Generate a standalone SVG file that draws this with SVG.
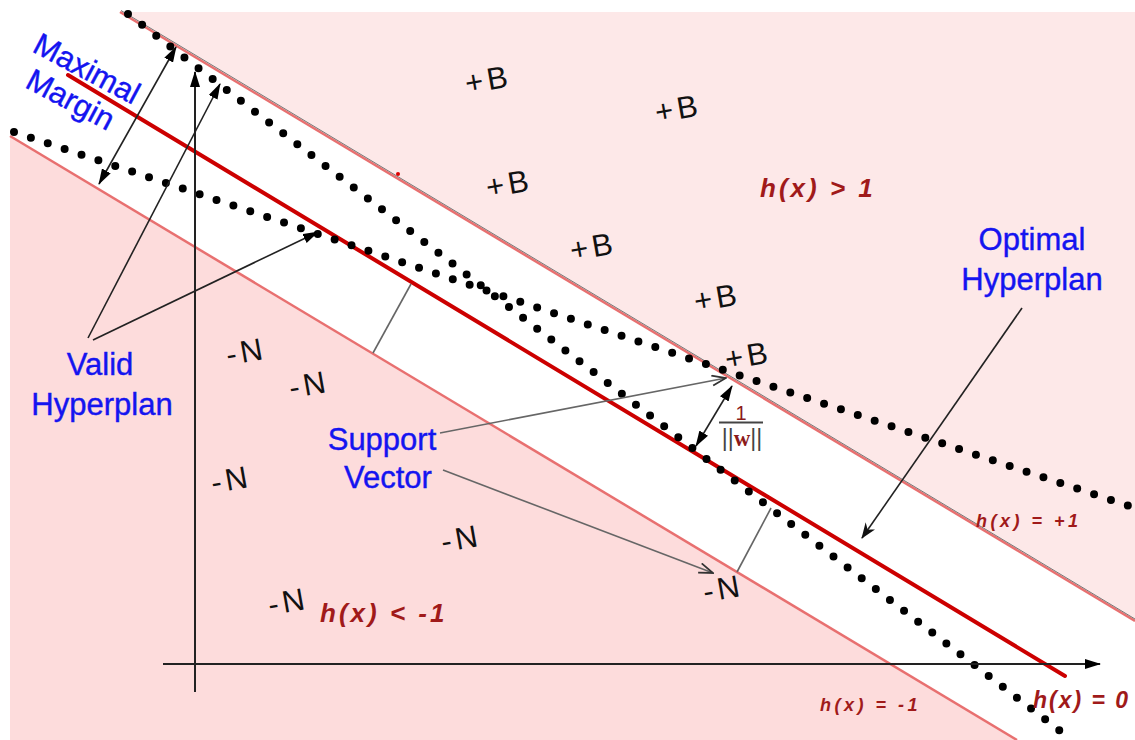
<svg xmlns="http://www.w3.org/2000/svg" width="1135" height="740" viewBox="0 0 1135 740">
<style>
.blue{font-family:"Liberation Sans",Arial,sans-serif;font-size:31px;fill:#1414f0;text-anchor:middle;stroke:#1414f0;stroke-width:0.4px}
.pt{font-family:"Liberation Sans",Arial,sans-serif;font-size:31px;fill:#111;letter-spacing:4px;text-anchor:middle}
.hx{font-family:"Liberation Sans",Arial,sans-serif;font-style:italic;font-weight:bold;fill:#a01a1a}
.dots{fill:none;stroke:#000;stroke-width:8;stroke-linecap:round;stroke-dasharray:0 17.8}
.bnd{fill:none;stroke:#e87070;stroke-width:2.5}
.ptr{fill:none;stroke:#222;stroke-width:1.6}
.gray{fill:none;stroke:#666;stroke-width:1.6}
</style>
<defs>
<marker id="tri" viewBox="0 0 16 10" refX="15" refY="5" markerWidth="16" markerHeight="10" markerUnits="userSpaceOnUse" orient="auto-start-reverse"><path d="M0,0 L16,5 L0,10 z" fill="#000"/></marker>
<marker id="barb" viewBox="0 0 16 12" refX="15" refY="6" markerWidth="16" markerHeight="12" markerUnits="userSpaceOnUse" orient="auto"><path d="M0,0 L16,6 L0,12 L5,6 z" fill="#111"/></marker>
<marker id="vee" viewBox="0 0 16 12" refX="15" refY="6" markerWidth="16" markerHeight="12" markerUnits="userSpaceOnUse" orient="auto"><path d="M1,1 L15,6 L1,11" fill="none" stroke="#333" stroke-width="1.8"/></marker>
</defs>
<rect x="0" y="0" width="1135" height="740" fill="#fff"/>
<g id="regions">
<polygon points="120,12 1135,12 1135,621" fill="#fde8e8"/>
<polygon points="10,136 1017,740 10,740" fill="#fddcdc"/>
</g>
<g id="lines">
<line class="bnd" x1="120" y1="12" x2="1135" y2="621"/>
<line x1="121" y1="10.5" x2="1135" y2="619" stroke="#777" stroke-width="1"/>
<line class="bnd" x1="10" y1="136" x2="1017" y2="740"/>
<circle cx="398" cy="174" r="2" fill="#d00"/>
<line x1="68" y1="75" x2="1065" y2="676" stroke="#cc0000" stroke-width="4" stroke-linecap="round"/>
<line class="dots" x1="128" y1="14" x2="1072" y2="740"/>
<line class="dots" x1="14" y1="132" x2="1135" y2="508"/>
</g>
<g id="connectors">
<line x1="163" y1="664" x2="1100" y2="664" stroke="#222" stroke-width="2" marker-end="url(#tri)"/>
<line x1="195" y1="692" x2="195" y2="72" stroke="#222" stroke-width="2" marker-end="url(#tri)"/>
<line class="ptr" x1="99" y1="184" x2="176" y2="47" marker-start="url(#tri)" marker-end="url(#tri)"/>
<line class="ptr" x1="88" y1="338" x2="220" y2="84" marker-end="url(#tri)"/>
<line class="ptr" x1="93" y1="340" x2="318" y2="232" marker-end="url(#tri)"/>
<line class="gray" x1="373" y1="353" x2="411" y2="284"/>
<line class="gray" x1="737" y1="572" x2="771" y2="508"/>
<line class="ptr" x1="696" y1="446" x2="732" y2="386" marker-start="url(#tri)" marker-end="url(#tri)"/>
<line class="gray" x1="440" y1="433" x2="726" y2="378" marker-end="url(#vee)"/>
<line class="gray" x1="443" y1="470" x2="713" y2="573" marker-end="url(#vee)"/>
<line class="ptr" x1="1022" y1="308" x2="862" y2="538" marker-end="url(#barb)"/>
</g>
<g id="label-maximal-margin" transform="rotate(28 82 78)">
<text class="blue" x="82" y="78">Maximal</text>
<text class="blue" x="82" y="113">Margin</text>
</g>
<g id="label-valid">
<text class="blue" x="100" y="375">Valid</text>
<text class="blue" x="102" y="415">Hyperplan</text>
</g>
<g id="label-support">
<text class="blue" x="382" y="450">Support</text>
<text class="blue" x="388" y="488">Vector</text>
</g>
<g id="label-optimal">
<text class="blue" x="1032" y="250">Optimal</text>
<text class="blue" x="1032" y="290">Hyperplan</text>
</g>
<g id="points-B">
<text class="pt" transform="rotate(-10 490 90)" x="490" y="90">+B</text>
<text class="pt" transform="rotate(-10 680 119)" x="680" y="119">+B</text>
<text class="pt" transform="rotate(-10 511 194)" x="511" y="194">+B</text>
<text class="pt" transform="rotate(-10 595 257)" x="595" y="257">+B</text>
<text class="pt" transform="rotate(-10 719 308)" x="719" y="308">+B</text>
<text class="pt" transform="rotate(-10 750 366)" x="750" y="366">+B</text>
</g>
<g id="points-N">
<text class="pt" transform="rotate(-10 248 362)" x="248" y="362">-N</text>
<text class="pt" transform="rotate(-10 311 395)" x="311" y="395">-N</text>
<text class="pt" transform="rotate(-10 233 490)" x="233" y="490">-N</text>
<text class="pt" transform="rotate(-10 463 549)" x="463" y="549">-N</text>
<text class="pt" transform="rotate(-10 290 612)" x="290" y="612">-N</text>
<text class="pt" transform="rotate(-10 725 599)" x="725" y="599">-N</text>
</g>
<g id="label-norm">
<text x="741" y="420" font-family="Liberation Sans,Arial,sans-serif" font-size="20" fill="#8b1a1a" text-anchor="middle">1</text>
<line x1="719" y1="422.5" x2="763" y2="422.5" stroke="#444" stroke-width="1.8"/>
<text x="742" y="446" font-family="Liberation Sans,Arial,sans-serif" font-size="23" fill="#444" text-anchor="middle">||<tspan fill="#8b1a1a" font-family="Liberation Serif,serif" font-weight="bold">w</tspan>||</text>
</g>
<g id="labels-h">
<text class="hx" x="760" y="197" font-size="26" letter-spacing="3">h(x) &gt; 1</text>
<text class="hx" x="320" y="622" font-size="26" letter-spacing="3">h(x) &lt; -1</text>
<text class="hx" x="976" y="527" font-size="18" letter-spacing="3.5">h(x) = +1</text>
<text class="hx" x="820" y="711" font-size="18" letter-spacing="3.5">h(x) = -1</text>
<text class="hx" x="1033" y="708" font-size="23" letter-spacing="2">h(x) = 0</text>
</g>
</svg>
